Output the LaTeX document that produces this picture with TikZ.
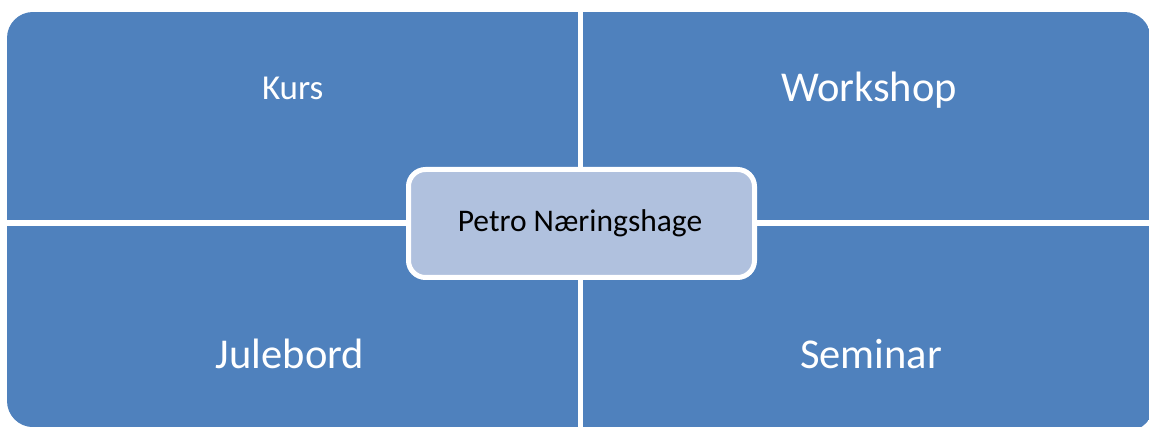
\documentclass[tikz,border=0pt]{standalone}
\usepackage{fontspec}
\setmainfont{Carlito}
\definecolor{quadblue}{HTML}{4F81BD}
\definecolor{centerfill}{HTML}{B0C1DE}
\begin{document}
\begin{tikzpicture}[x=1pt,y=1pt,
  quad/.style={fill=quadblue},
  biglabel/.style={anchor=base,text=white,font=\fontsize{42.5}{50}\selectfont,inner sep=0pt},
  smalllabel/.style={anchor=base,text=white,font=\fontsize{35}{42}\selectfont,inner sep=0pt},
  centerbox/.style={rectangle,rounded corners=17pt,draw=white,line width=5pt,fill=centerfill,
    minimum width=346pt,minimum height=108pt,inner sep=0pt},
  centerlabel/.style={anchor=base,inner sep=0pt,text=black,font=\fontsize{31.5}{38}\selectfont}]
\useasboundingbox (0,0) rectangle (1149,426);
\begin{scope}
  \clip[rounded corners=26pt] (7,-1) -- (7,414) -- (1150.5,414) -- (1153.5,-5) -- cycle;
  \fill[quad] (7,205.5) rectangle (578,414);
  \fill[quad] (583,205.5) rectangle (1155,414);
  \fill[quad] (7,-6) rectangle (578,199.5);
  \fill[quad] (583,-6) rectangle (1155,199.5);
\end{scope}
\node[smalllabel] (kurs) at (292.7,326) {Kurs};
\node[biglabel] (workshop) at (869,324.3) {Workshop};
\node[biglabel] (julebord) at (290,57.7) {Julebord};
\node[biglabel] (seminar) at (871,57.7) {Seminar};
\node[centerbox] (center) at (581.5,202.5) {};
\node[centerlabel] (petro) at (580,194.3) {Petro Næringshage};
\end{tikzpicture}
\end{document}
